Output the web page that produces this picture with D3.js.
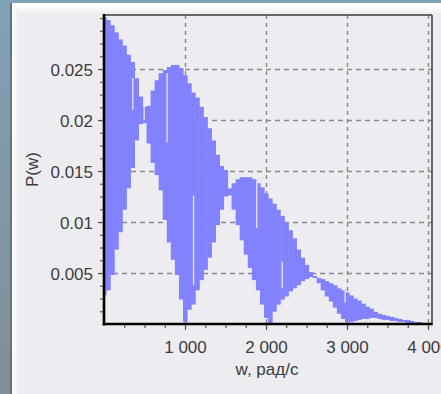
<!DOCTYPE html>
<html>
<head>
<meta charset="utf-8">
<script src="https://cdn.jsdelivr.net/npm/d3@7/dist/d3.min.js"></script>
<style>
  body { margin: 0; background: #ededf1; overflow: hidden; }
  text { font-family: "Liberation Sans", Arial, sans-serif; }
</style>
</head>
<body>
<div id="chart"></div>
<script>
// sample frequencies, rad/s
const wSamples = [
  0, 50, 100, 150, 200, 250, 300, 350, 400, 450,
  500, 550, 600, 650, 700, 750, 800, 850, 900, 950,
  1000, 1050, 1100, 1150, 1200, 1250, 1300, 1350, 1400, 1450,
  1500, 1550, 1600, 1650, 1700, 1750, 1800, 1850, 1900, 1950,
  2000, 2050, 2100, 2150, 2200, 2250, 2300, 2350, 2400, 2450,
  2500, 2550, 2600, 2650, 2700, 2750, 2800, 2850, 2900, 2950,
  3000, 3050, 3100, 3150, 3200, 3250, 3300, 3350, 3400, 3450,
  3500, 3550, 3600, 3650, 3700, 3750, 3800, 3850, 3900
];
// top of the oscillation at each sample
const pUpper = [
  0.0301, 0.0298, 0.0293, 0.0286, 0.0279, 0.0273, 0.0264, 0.0257, 0.0241, 0.0223,
  0.0213, 0.0214, 0.0229, 0.0239, 0.0246, 0.0249, 0.0252, 0.0254, 0.0254, 0.0251,
  0.0244, 0.0236, 0.0227, 0.0222, 0.0213, 0.0203, 0.0192, 0.0180, 0.0166, 0.0155,
  0.0151, 0.0133, 0.0138, 0.0142, 0.0144, 0.0144, 0.0144, 0.0142, 0.0138, 0.0134,
  0.0128, 0.0123, 0.0118, 0.0112, 0.0106, 0.0100, 0.0092, 0.0084, 0.0073, 0.0065,
  0.0058, 0.0051, 0.0047, 0.0045, 0.0044, 0.0042, 0.0040, 0.0038, 0.0035, 0.0033,
  0.0031, 0.0028, 0.0025, 0.0023, 0.0020, 0.0017, 0.0015, 0.0012, 0.0010, 0.0009,
  0.0008, 0.0007, 0.0006, 0.0005, 0.0004, 0.0004, 0.0003, 0.0002, 0.0002
];
// bottom of the oscillation at each sample
const pLower = [
  0.0028, 0.0033, 0.0048, 0.0073, 0.0090, 0.0112, 0.0133, 0.0153, 0.0180, 0.0196,
  0.0197, 0.0177, 0.0158, 0.0146, 0.0131, 0.0102, 0.0080, 0.0063, 0.0048, 0.0024,
  0.0002, 0.0014, 0.0019, 0.0033, 0.0043, 0.0053, 0.0065, 0.0080, 0.0097, 0.0112,
  0.0125, 0.0126, 0.0112, 0.0097, 0.0082, 0.0068, 0.0055, 0.0043, 0.0033, 0.0019,
  0.0006, 0.0001, 0.0012, 0.0019, 0.0024, 0.0027, 0.0032, 0.0035, 0.0038, 0.0042,
  0.0044, 0.0046, 0.0045, 0.0040, 0.0033, 0.0027, 0.0022, 0.0016, 0.0010, 0.0005,
  0.0002, 0.0002, 0.0003, 0.0004, 0.0005, 0.0005, 0.0006, 0.0006, 0.0005, 0.0004,
  0.0004, 0.0003, 0.0003, 0.0002, 0.0002, 0.0001, 0.0001, 0.0001, 0.0000
];
// thin uncovered slits inside the band
const gapW  = [355, 495, 778, 1105, 1885, 2200, 2975];
const gapHi = [0.0241, 0.0222, 0.0246, 0.0126, 0.0139, 0.0061, 0.0033];
const gapLo = [0.0210, 0.0200, 0.0178, 0.0038, 0.0094, 0.0035, 0.0021];

const yTicks = [0.005, 0.01, 0.015, 0.02, 0.025];
const yTickLabels = ["0.005", "0.01", "0.015", "0.02", "0.025"];
const xTicks = [1000, 2000, 3000, 4000];
const xTickLabels = ["1 000", "2 000", "3 000", "4 000"];

const W = 441, H = 394;
const pL = 104, pR = 432, pT = 15, pB = 324;
const step = 50;

const svg = d3.select("#chart").append("svg")
  .attr("width", W).attr("height", H);

const defs = svg.append("defs");
const slide = defs.append("linearGradient").attr("id", "slide")
  .attr("x1", 0).attr("y1", 0).attr("x2", 0).attr("y2", 1);
slide.append("stop").attr("offset", 0).attr("stop-color", "#7fa2b7");
slide.append("stop").attr("offset", 1).attr("stop-color", "#838e96");
const bevL = defs.append("linearGradient").attr("id", "bevL")
  .attr("x1", 0).attr("y1", 0).attr("x2", 1).attr("y2", 0);
bevL.append("stop").attr("offset", 0).attr("stop-color", "#ffffff");
bevL.append("stop").attr("offset", 1).attr("stop-color", "#ededf1");
const bevT = defs.append("linearGradient").attr("id", "bevT")
  .attr("x1", 0).attr("y1", 0).attr("x2", 0).attr("y2", 1);
bevT.append("stop").attr("offset", 0).attr("stop-color", "#ffffff");
bevT.append("stop").attr("offset", 1).attr("stop-color", "#f1f1f4");
defs.append("clipPath").attr("id", "plotclip").append("rect")
  .attr("x", pL).attr("y", pT).attr("width", pR - pL).attr("height", pB - pT);

// slide background and the raised panel
svg.append("rect").attr("width", W).attr("height", H).attr("fill", "url(#slide)");
svg.append("rect").attr("x", 10).attr("y", 3).attr("width", 2).attr("height", H).attr("fill", "#66737c");
svg.append("rect").attr("x", 12).attr("y", 3).attr("width", W - 12).attr("height", H - 3).attr("fill", "#ededf1");
svg.append("path").attr("d", `M12,3 L${W},3 L${W},13 L20,13 Z`).attr("fill", "url(#bevT)");
svg.append("path").attr("d", `M12,3 L20,13 L20,${H} L12,${H} Z`).attr("fill", "url(#bevL)");

const x = d3.scaleLinear().domain([0, 4000]).range([pL, 428]);
const y = d3.scaleLinear().domain([0, 0.0303]).range([pB, pT]);

const plot = svg.append("g");

// dashed grid
plot.selectAll(".hgrid").data(yTicks).enter().append("line")
  .attr("x1", pL).attr("x2", pR)
  .attr("y1", d => Math.round(y(d)) + 0.5).attr("y2", d => Math.round(y(d)) + 0.5)
  .attr("stroke", "#8a8a8a").attr("stroke-width", 1.4).attr("stroke-dasharray", "5,4");
plot.selectAll(".vgrid").data(xTicks).enter().append("line")
  .attr("x1", d => Math.round(x(d)) + 0.5).attr("x2", d => Math.round(x(d)) + 0.5)
  .attr("y1", pT).attr("y2", pB)
  .attr("stroke", "#8a8a8a").attr("stroke-width", 1.4).attr("stroke-dasharray", "4,4");

// the band, one floating bar per sample
const band = plot.append("g").attr("clip-path", "url(#plotclip)");
band.selectAll("rect.bar").data(wSamples).enter().append("rect")
  .attr("class", "bar")
  .attr("x", d => x(d - step / 2))
  .attr("width", x(step) - x(0) + 0.6)
  .attr("y", (d, i) => y(pUpper[i]))
  .attr("height", (d, i) => Math.max(0.5, y(pLower[i]) - y(pUpper[i])))
  .attr("fill", "#8282ff");
band.selectAll("rect.gap").data(gapW).enter().append("rect")
  .attr("class", "gap")
  .attr("x", d => x(d) - 0.6).attr("width", 1.3)
  .attr("y", (d, i) => y(gapHi[i]))
  .attr("height", (d, i) => y(gapLo[i]) - y(gapHi[i]))
  .attr("fill", "#e6e6f3");

// frame
plot.append("line").attr("x1", pL).attr("x2", pR).attr("y1", pT).attr("y2", pT)
  .attr("stroke", "#3c3c3c").attr("stroke-width", 1.5);
plot.append("line").attr("x1", pR).attr("x2", pR).attr("y1", pT).attr("y2", pB)
  .attr("stroke", "#3c3c3c").attr("stroke-width", 1.5);

// axes
const yAxis = d3.axisLeft(y).tickValues(yTicks).tickSize(5).tickPadding(5)
  .tickFormat((d, i) => yTickLabels[i]);
const yMinor = d3.axisLeft(y).tickValues(d3.range(0.00125, 0.0303, 0.00125)).tickSize(3).tickFormat("");
const xAxis = d3.axisBottom(x).tickValues(xTicks).tickSize(5).tickPadding(11)
  .tickFormat((d, i) => xTickLabels[i]);
const xMinor = d3.axisBottom(x).tickValues(d3.range(250, 4001, 250)).tickSize(3).tickFormat("");

function styleAxis(g) {
  g.select(".domain").remove();
  g.selectAll(".tick line").attr("stroke", "#555").attr("stroke-width", 1.2);
  g.selectAll(".tick text").attr("fill", "#3c3c3c").style("font-size", "17px")
    .style("font-family", "'Liberation Sans', Arial, sans-serif");
}
svg.append("g").attr("transform", `translate(${pL - 1},0)`).call(yMinor).call(styleAxis);
svg.append("g").attr("transform", `translate(${pL - 1},0)`).call(yAxis).call(styleAxis)
  .selectAll(".tick text").attr("dy", "0.36em");
svg.append("g").attr("transform", `translate(0,${pB + 1})`).call(xMinor).call(styleAxis);
svg.append("g").attr("transform", `translate(0,${pB + 1})`).call(xAxis).call(styleAxis);

plot.append("line").attr("x1", pL).attr("x2", pL).attr("y1", pT - 1).attr("y2", pB + 1.5)
  .attr("stroke", "#000").attr("stroke-width", 2.6);
plot.append("line").attr("x1", pL - 1.3).attr("x2", pR + 0.7).attr("y1", pB).attr("y2", pB)
  .attr("stroke", "#000").attr("stroke-width", 2.6);

// titles
svg.append("text").attr("x", (pL + pR) / 2 - 1).attr("y", 375)
  .attr("text-anchor", "middle").attr("fill", "#3c3c3c").style("font-size", "17px")
  .text("w, рад/с");
svg.append("text").attr("transform", `translate(38,${(pT + pB) / 2}) rotate(-90)`)
  .attr("text-anchor", "middle").attr("fill", "#3c3c3c").style("font-size", "17px")
  .text("P(w)");
</script>
</body>
</html>
